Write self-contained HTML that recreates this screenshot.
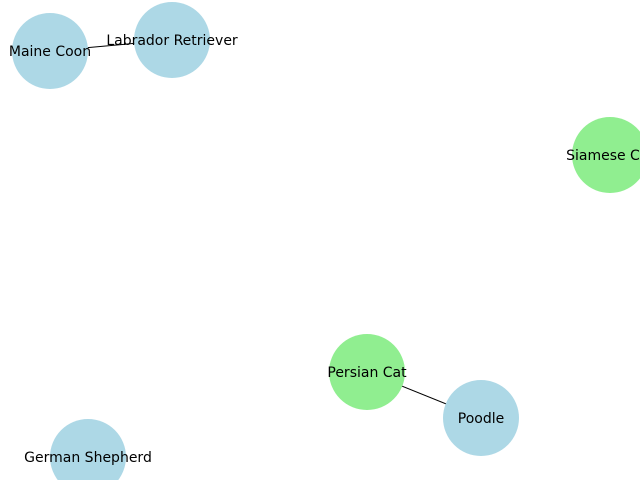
<!DOCTYPE html>
<html>
<head>
<meta charset="utf-8">
<style>
  html,body{margin:0;padding:0;background:#fff;}
  svg{display:block;}
  text{font-family:"DejaVu Sans","Liberation Sans",sans-serif;font-size:14px;fill:#000;}
</style>
</head>
<body>
<svg id="chart" width="640" height="480" viewBox="0 0 640 480">
  <g id="edges"></g>
  <g id="nodes"></g>
</svg>
<script>
const nodeNames = ["Maine Coon","Labrador Retriever","Siamese Cat","Persian Cat","Poodle","German Shepherd"];
const nodeX = [50,172,610,367,481,88];
const nodeY = [51,40,155,372,418,457];
const nodeGroup = ["dog","dog","cat","cat","dog","dog"];
const edgeFrom = [0,3];
const edgeTo = [1,4];

const NS = "http://www.w3.org/2000/svg";
const R = 38;
const colors = {dog:"#add8e6", cat:"#90ee90"};
const eg = document.getElementById("edges");
const ng = document.getElementById("nodes");

for (let i = 0; i < edgeFrom.length; i++) {
  const a = edgeFrom[i], b = edgeTo[i];
  const l = document.createElementNS(NS, "line");
  l.setAttribute("x1", nodeX[a]); l.setAttribute("y1", nodeY[a]);
  l.setAttribute("x2", nodeX[b]); l.setAttribute("y2", nodeY[b]);
  l.setAttribute("stroke", "#000"); l.setAttribute("stroke-width", "1");
  
  
  eg.appendChild(l);
}
for (let i = 0; i < nodeNames.length; i++) {
  const c = document.createElementNS(NS, "circle");
  c.setAttribute("cx", nodeX[i]); c.setAttribute("cy", nodeY[i]);
  c.setAttribute("r", R); c.setAttribute("fill", colors[nodeGroup[i]]);
  
  
  ng.appendChild(c);
}
for (let i = 0; i < nodeNames.length; i++) {
  const t = document.createElementNS(NS, "text");
  t.setAttribute("x", nodeX[i]); t.setAttribute("y", nodeY[i] + 5);
  t.setAttribute("text-anchor", "middle");
  t.textContent = nodeNames[i];
  
  
  ng.appendChild(t);
}
</script>
</body>
</html>
